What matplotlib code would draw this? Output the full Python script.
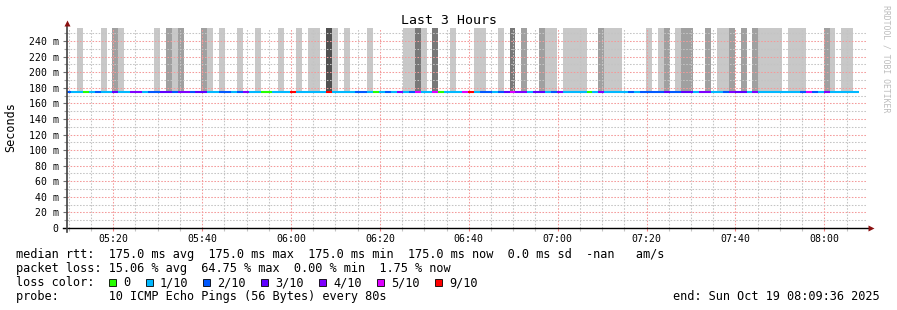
import matplotlib
matplotlib.use("Agg")
import matplotlib.pyplot as plt
import matplotlib.dates as mdates
from matplotlib.ticker import FixedLocator, FuncFormatter
from matplotlib.patches import Rectangle
import pandas as pd

# --- data -------------------------------------------------------------
# one entry per 80 s probe round (first round starts before the window)
first_round = "2025-10-19 05:09:10"
window_start = "2025-10-19 05:09:36"
window_end = "2025-10-19 08:09:36"
step_s = 80

# packet loss per round, in tenths
loss = [
    2,
    1, 1, 0, 1, 2, 1, 1, 3, 1, 1,
    4, 4, 1, 2, 2, 3, 3, 2, 4, 4,
    2, 3, 3, 1, 1, 2, 2, 1, 2, 4,
    1, 1, 0, 0, 1, 1, 1, 9, 1, 1,
    1, 1, 1, 9, 1, 1, 1, 1, 2, 2,
    1, 0, 1, 2, 1, 4, 1, 2, 5, 1,
    1, 5, 0, 1, 1, 1, 5, 9, 1, 2,
    2, 1, 2, 3, 5, 4, 4, 1, 3, 3,
    1, 2, 4, 1, 1, 1, 1, 0, 1, 4,
    1, 1, 1, 1, 2, 1, 2, 2, 2, 2,
    3, 2, 2, 3, 3, 1, 4, 4, 1, 1,
    2, 4, 3, 3, 1, 4, 1, 1, 1, 1,
    1, 1, 1, 2, 5, 2, 1, 4, 1, 1,
    1, 1, 1,
]

# smoke density per round (0 = none, 4 = darkest)
smoke = [
    0,
    0, 1, 0, 0, 0, 1, 0, 2, 1, 0,
    0, 0, 0, 0, 1, 0, 2, 1, 2, 0,
    0, 0, 2, 1, 0, 1, 0, 0, 1, 0,
    0, 1, 0, 0, 0, 1, 0, 0, 1, 0,
    1, 1, 0, 4, 1, 0, 1, 0, 0, 0,
    1, 0, 0, 0, 0, 0, 1, 1, 3, 1,
    0, 3, 0, 0, 1, 0, 0, 0, 1, 1,
    0, 0, 1, 0, 3, 0, 2, 0, 0, 2,
    1, 1, 0, 1, 1, 1, 1, 0, 0, 2,
    1, 1, 1, 0, 0, 0, 0, 1, 0, 1,
    2, 0, 1, 2, 2, 0, 0, 2, 0, 1,
    1, 2, 0, 2, 0, 2, 1, 1, 1, 1,
    0, 1, 1, 1, 0, 0, 0, 2, 1, 0,
    1, 1, 0,
]

median_ms = [175.0] * len(loss)   # median rtt was flat at 175.0 ms

loss_levels = [0, 1, 2, 3, 4, 5, 9]
loss_labels = ["0", "1/10", "2/10", "3/10", "4/10", "5/10", "9/10"]
loss_colors = ["#26ff00", "#00b8ff", "#0059ff", "#5e00ff", "#7e00ff", "#dd00ff", "#ff0000"]
smoke_colors = {1: "#c8c8c8", 2: "#a0a0a0", 3: "#787878", 4: "#505050"}

legend_lines = [
    "median rtt:  175.0 ms avg  175.0 ms max  175.0 ms min  175.0 ms now  0.0 ms sd  -nan   am/s",
    "packet loss: 15.06 % avg  64.75 % max  0.00 % min  1.75 % now",
    "loss color:",
    "probe:       10 ICMP Echo Pings (56 Bytes) every 80s",
]
end_text = "end: Sun Oct 19 08:09:36 2025"

# --- figure -----------------------------------------------------------
W, H = 897, 310
MONO = "DejaVu Sans Mono"
plt.rcParams["font.family"] = MONO

fig = plt.figure(figsize=(W / 100, H / 100), dpi=100)
fig.patch.set_facecolor("white")
ax = fig.add_axes([67 / W, (H - 228) / H, 800 / W, 200 / H])

t = pd.date_range(first_round, periods=len(loss), freq=f"{step_s}s")
x0 = mdates.date2num(t.to_pydatetime())
dx = step_s / 86400.0
ytop = 0.2567

# smoke bars from the median up
for xi, s, m in zip(x0, smoke, median_ms):
    if s:
        ax.bar(xi, ytop - m / 1000, bottom=m / 1000, width=dx, align="edge",
               color=smoke_colors[s], linewidth=0, zorder=1)

# median line coloured by loss
cmap = dict(zip(loss_levels, loss_colors))
ax.hlines([m / 1000 for m in median_ms], x0, x0 + dx,
          colors=[cmap[l] for l in loss], linewidth=1.5, zorder=3)

ax.set_xlim(mdates.date2num(pd.Timestamp(window_start)),
            mdates.date2num(pd.Timestamp(window_end)))
ax.set_ylim(0, ytop)

# grid
ax.xaxis.set_major_locator(mdates.MinuteLocator(byminute=[0, 20, 40]))
ax.xaxis.set_minor_locator(mdates.MinuteLocator(byminute=[5, 10, 15, 25, 30, 35, 45, 50, 55]))
ax.xaxis.set_major_formatter(mdates.DateFormatter("%H:%M"))
ax.yaxis.set_major_locator(FixedLocator([i * 0.02 for i in range(13)]))
ax.yaxis.set_minor_locator(FixedLocator([0.01 + i * 0.02 for i in range(13)]))
ax.yaxis.set_major_formatter(FuncFormatter(lambda v, p: "0" if v < 1e-9 else f"{round(v * 1000)} m"))

ax.set_axisbelow(False)
ax.grid(which="major", color="#f49a9a", linewidth=0.75, linestyle=(0, (1.5, 1.5)), zorder=2)
ax.grid(which="minor", color="#c4c4c4", linewidth=0.75, linestyle=(0, (1.5, 1.5)), zorder=2)

for sp in ax.spines.values():
    sp.set_visible(False)
ax.tick_params(axis="x", which="major", length=2.2, width=0.8, color="#f08080",
               pad=2.0, labelsize=7.1)
ax.tick_params(axis="x", which="minor", length=2.2, width=0.8, color="#c4c4c4")
ax.tick_params(axis="y", which="major", length=3, width=0.8, color="#707070",
               pad=3.0, labelsize=7.1)
ax.tick_params(axis="y", which="minor", length=2, width=0.8, color="#a0a0a0")

# axis lines with arrows
ax.plot([-4 / 800, 803 / 800], [0, 0], color="black", lw=1.0, transform=ax.transAxes,
        clip_on=False, zorder=4)
ax.plot([0, 0], [-4 / 200, 203 / 200], color="#404040", lw=1.2, transform=ax.transAxes,
        clip_on=False, zorder=4)
ax.plot([804 / 800], [0], marker=">", ms=4.5, color="#8b1010", transform=ax.transAxes,
        clip_on=False, zorder=5, mec="none")
ax.plot([0], [205 / 200], marker="^", ms=4.5, color="#8b1010", transform=ax.transAxes,
        clip_on=False, zorder=5, mec="none")

# texts
fig.text(0.5, 1 - 20 / H, "Last 3 Hours", ha="center", va="center", fontsize=9.5)
fig.text(11 / W, 1 - 127 / H, "Seconds", rotation=90, ha="center", va="center", fontsize=8.5)
fig.text(886 / W, 1 - 59 / H, "RRDTOOL / TOBI OETIKER", rotation=270, ha="center",
         va="center", fontsize=5.9, color="#bcbcbc")

baselines = [258, 272, 286, 300]
for line, yb in zip(legend_lines, baselines):
    fig.text(16 / W, 1 - yb / H, line, ha="left", va="baseline", fontsize=8.55)
fig.text(880 / W, 1 - 300 / H, end_text, ha="right", va="baseline", fontsize=8.55)

sw_x = [109, 146, 203, 261, 319, 377, 435]
for sx, lab, col in zip(sw_x, loss_labels, loss_colors):
    fig.patches.append(Rectangle((sx / W, 1 - 286 / H), 7 / W, 7 / H,
                                 transform=fig.transFigure, facecolor=col,
                                 edgecolor="black", linewidth=0.6))
    fig.text((sx + 14) / W, 1 - 286 / H, lab, ha="left", va="baseline", fontsize=8.55)

fig.savefig("out.png", dpi=100)
